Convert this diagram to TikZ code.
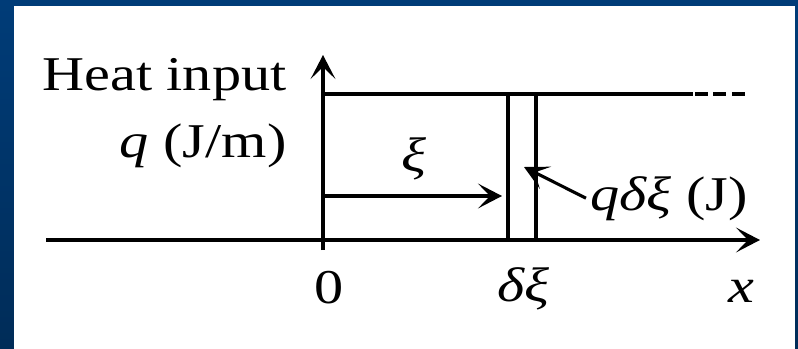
\documentclass[tikz,border=0pt]{standalone}
\usepackage{fontspec}
\setmainfont[FakeStretch=1.2]{Liberation Serif}
\usepackage{xcolor}
\usetikzlibrary{arrows.meta,positioning}

\definecolor{slideblue}{RGB}{0,60,120}
\definecolor{slidedark}{RGB}{0,44,88}

\begin{document}
\begin{tikzpicture}[
    x=0.025cm, y=-0.025cm,
    line width=2.2pt,
    lbl/.style={inner sep=0pt, font=\fontsize{34.5}{40}\selectfont},
    arrow/.style={-{Stealth[length=0.6cm, width=0.62cm, inset=0.3cm]}, line width=2.2pt}
  ]
    % slide background
    \shade[top color=slideblue, bottom color=slidedark] (0,0) rectangle (798,349);
    \fill[white] (14,6) rectangle (795,349);
    \useasboundingbox (0,0) rectangle (798,349);

    \coordinate (o) at (323,240);
    \coordinate (ytop) at (323,55);
    \coordinate (ybot) at (323,250);
    \coordinate (xleft) at (46,240);
    \coordinate (xright) at (760,240);
    \coordinate (qtop) at (323,94);
    \coordinate (qend) at (693,94);
    \coordinate (qdash) at (746,94);
    \coordinate (xitip) at (502,196);
    \coordinate (xistart) at (323,196);
    \coordinate (dtip) at (524,167);

    % axes
    \draw[arrow] (ybot) -- (ytop);
    \draw[arrow] (xleft) -- (xright);

    % heat input level
    \draw (qtop) -- (qend);
    \draw[dash pattern=on 0.32cm off 0.14cm] (qend) ++(2,0) -- (qdash);

    % element at xi
    \draw (508,94) -- (508,240);
    \draw (536,94) -- (536,240);

    % labels
    \node[lbl, anchor=base east] (heat) at (288,90) {Heat input};
    \node[lbl, anchor=base east] (unit) at (288,157) {\textit{q} (J/m)};
    \node[lbl, anchor=base] (zero) at (329,303) {0};
    \node[lbl, anchor=base] (dxi) at (523,301) {\textit{δξ}};
    \node[lbl, anchor=base] (xlab) at (741,302) {\textit{x}};
    \node[lbl, anchor=base] (xi) at (414,171) {\textit{ξ}};
    \node[lbl, anchor=base west, inner sep=2pt] (qdxi) at (586,210) {\textit{qδξ} (J)};

    \draw[arrow] (xistart) -- (xitip);
    \draw[arrow] (qdxi.west) -- (dtip);
\end{tikzpicture}
\end{document}
